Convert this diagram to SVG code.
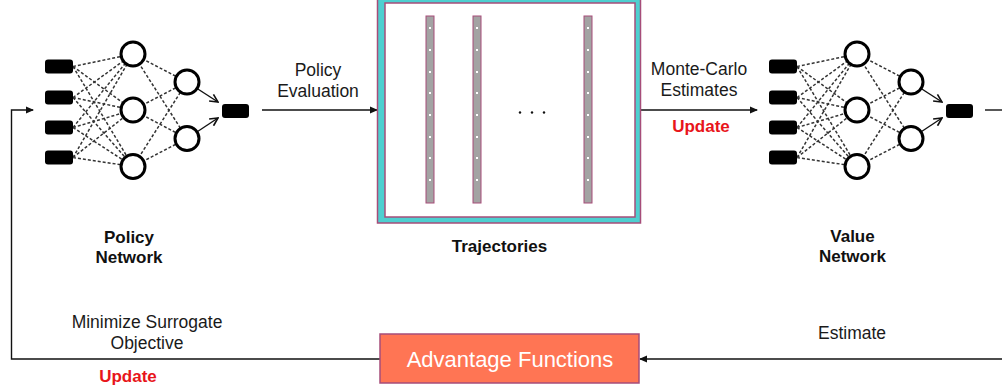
<svg xmlns="http://www.w3.org/2000/svg" xmlns:xlink="http://www.w3.org/1999/xlink" width="1002" height="391" viewBox="0 0 1002 391">
  <style>
    .lbl { font-family: "Liberation Sans", Arial, sans-serif; font-size: 17.5px; fill: #1a1a1a; text-anchor: middle; }
    .title { font-family: "Liberation Sans", Arial, sans-serif; font-size: 17px; font-weight: bold; fill: #111; text-anchor: middle; }
    .upd { font-family: "Liberation Sans", Arial, sans-serif; font-size: 17px; font-weight: bold; fill: #e8151b; text-anchor: middle; }
    .adv { font-family: "Liberation Sans", Arial, sans-serif; font-size: 22px; fill: #ffffff; text-anchor: middle; }
    .wire { fill: none; stroke: #111; stroke-width: 1.4; }
    .dash { stroke: #333; stroke-width: 1.5; stroke-dasharray: 3 2; }
    .neuron { fill: #fff; stroke: #000; stroke-width: 3; }
    .io { fill: #000; }
    .bar { fill: #a3a3a3; stroke: #a64d79; stroke-width: 1; }
    .dot { fill: #fff; }
  </style>
  <defs>
    <marker id="tri" viewBox="0 0 8 8" refX="7" refY="4" markerWidth="8" markerHeight="8" markerUnits="userSpaceOnUse" orient="auto">
      <path d="M0,0.5 L8,4 L0,7.5 Z" fill="#111"/>
    </marker>
    <marker id="vee" viewBox="0 0 10 10" refX="9" refY="5" markerWidth="10" markerHeight="10" markerUnits="userSpaceOnUse" orient="auto">
      <path d="M1,1 L9,5 L1,9" fill="none" stroke="#111" stroke-width="1.6"/>
    </marker>

    <!-- small multilayer perceptron: 4 inputs, 3 + 2 hidden units, 1 output -->
    <g id="mlp">
      <g class="dash">
        <!-- inputs to first hidden layer -->
        <path d="M73,66.5 L133,54 M73,66.5 L133,110 M73,66.5 L133,166.5
                 M73,97.5 L133,54 M73,97.5 L133,110 M73,97.5 L133,166.5
                 M73,127.5 L133,54 M73,127.5 L133,110 M73,127.5 L133,166.5
                 M73,157.5 L133,54 M73,157.5 L133,110 M73,157.5 L133,166.5"/>
        <!-- first to second hidden layer -->
        <path d="M133,54 L187,82 M133,54 L187,138.5
                 M133,110 L187,82 M133,110 L187,138.5
                 M133,166.5 L187,82 M133,166.5 L187,138.5"/>
      </g>
      <line x1="187" y1="82" x2="218" y2="102" class="wire" stroke-width="1.5" marker-end="url(#vee)"/>
      <line x1="187" y1="138.5" x2="218" y2="118" class="wire" stroke-width="1.5" marker-end="url(#vee)"/>
      <rect class="io" x="45" y="59.5" width="28" height="14" rx="3"/>
      <rect class="io" x="45" y="90.5" width="28" height="14" rx="3"/>
      <rect class="io" x="45" y="120.5" width="28" height="14" rx="3"/>
      <rect class="io" x="45" y="150.5" width="28" height="14" rx="3"/>
      <circle class="neuron" cx="133" cy="54" r="12"/>
      <circle class="neuron" cx="133" cy="110" r="12"/>
      <circle class="neuron" cx="133" cy="166.5" r="12"/>
      <circle class="neuron" cx="187" cy="82" r="12"/>
      <circle class="neuron" cx="187" cy="138.5" r="12"/>
      <rect class="io" x="222" y="104" width="27" height="14" rx="3"/>
    </g>

    <!-- one sampled trajectory: a grey strip with white sample points -->
    <g id="traj">
      <rect class="bar" x="-4" y="16" width="8" height="187"/>
      <rect class="dot" x="-1" y="27" width="2" height="2"/>
      <rect class="dot" x="-1" y="49" width="2" height="2"/>
      <rect class="dot" x="-1" y="71" width="2" height="2"/>
      <rect class="dot" x="-1" y="92" width="2" height="2"/>
      <rect class="dot" x="-1" y="114" width="2" height="2"/>
      <rect class="dot" x="-1" y="136" width="2" height="2"/>
      <rect class="dot" x="-1" y="157" width="2" height="2"/>
      <rect class="dot" x="-1" y="179" width="2" height="2"/>
    </g>
  </defs>

  <rect width="1002" height="391" fill="#fff"/>

  <!-- connectors -->
  <g id="connectors">
    <line class="wire" x1="262" y1="110" x2="377" y2="110" marker-end="url(#tri)"/>
    <line class="wire" x1="641" y1="110" x2="757" y2="110" marker-end="url(#tri)"/>
    <line class="wire" x1="985" y1="110" x2="1004" y2="110"/>
    <line class="wire" x1="1004" y1="359" x2="640" y2="359" marker-end="url(#tri)"/>
    <path class="wire" d="M380,359 L11.5,359 L11.5,110 L33,110" marker-end="url(#tri)"/>
    <text class="lbl" x="318" y="76">Policy</text>
    <text class="lbl" x="318" y="97">Evaluation</text>
    <text class="lbl" x="699" y="75">Monte-Carlo</text>
    <text class="lbl" x="699" y="96">Estimates</text>
    <text class="upd" x="701" y="132">Update</text>
    <text class="lbl" x="147" y="328">Minimize Surrogate</text>
    <text class="lbl" x="147" y="349">Objective</text>
    <text class="upd" x="128" y="382">Update</text>
    <text class="lbl" x="852" y="339">Estimate</text>
  </g>

  <!-- policy network -->
  <g id="policy-network">
    <use xlink:href="#mlp"/>
    <text class="title" x="129" y="243">Policy</text>
    <text class="title" x="129" y="263">Network</text>
  </g>

  <!-- trajectories buffer -->
  <g id="trajectories">
    <rect x="377.5" y="-6" width="263" height="229" fill="#4ecfd0" stroke="#a64d79" stroke-width="1.5"/>
    <rect x="385" y="3" width="250" height="214" fill="#fff" stroke="#a64d79" stroke-width="1.5"/>
    <use xlink:href="#traj" x="430" y="0"/>
    <use xlink:href="#traj" x="477" y="0"/>
    <use xlink:href="#traj" x="588" y="0"/>
    <circle cx="520" cy="112.5" r="1.2" fill="#111"/>
    <circle cx="532" cy="112.5" r="1.2" fill="#111"/>
    <circle cx="544" cy="112.5" r="1.2" fill="#111"/>
    <text class="title" x="499.5" y="252">Trajectories</text>
  </g>

  <!-- value network -->
  <g id="value-network">
    <use xlink:href="#mlp" transform="translate(724,0)"/>
    <text class="title" x="852.5" y="242">Value</text>
    <text class="title" x="852.5" y="262">Network</text>
  </g>

  <!-- advantage functions -->
  <g id="advantage-functions">
    <rect x="380" y="334" width="259" height="49" fill="#ff7554" stroke="#a64d79" stroke-width="1.5"/>
    <text class="adv" x="510" y="367">Advantage Functions</text>
  </g>
</svg>
